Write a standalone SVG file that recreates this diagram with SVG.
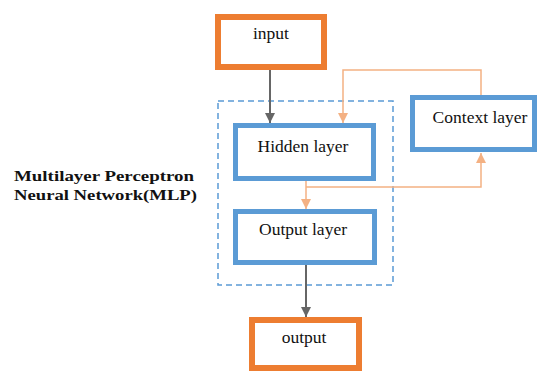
<svg xmlns="http://www.w3.org/2000/svg" width="541" height="372" viewBox="0 0 541 372">
  <style>
    .io { fill: #ffffff; stroke: #ED7D31; stroke-width: 6; }
    .layer { fill: #ffffff; stroke: #5B9BD5; stroke-width: 5; }
    .group { fill: none; stroke: #5B9BD5; stroke-width: 1.5; stroke-dasharray: 6 4; }
    .label { font-family: "Liberation Serif", "Times New Roman", serif; font-size: 17.5px; fill: #111111; text-anchor: middle; }
    .title { font-family: "Liberation Serif", "Times New Roman", serif; font-size: 15px; font-weight: bold; fill: #111111; }
    .fwd { fill: none; stroke: #666666; stroke-width: 2; }
    .ctx { fill: none; stroke: #F4B183; stroke-width: 1.5; }
  </style>
  <defs>
    <marker id="arrowGray" viewBox="0 0 10 10" refX="10" refY="5" markerWidth="11" markerHeight="10" markerUnits="userSpaceOnUse" orient="auto">
      <path d="M0,0 L10,5 L0,10 z" fill="#666666"/>
    </marker>
    <marker id="arrowOrange" viewBox="0 0 10 10" refX="10" refY="5" markerWidth="11" markerHeight="10" markerUnits="userSpaceOnUse" orient="auto">
      <path d="M0,0 L10,5 L0,10 z" fill="#F4B183"/>
    </marker>
  </defs>

  <!-- MLP boundary -->
  <rect class="group" x="218" y="101" width="175" height="184"/>

  <!-- connectors -->
  <g id="connectors">
    <path class="fwd" d="M270,70 V123" marker-end="url(#arrowGray)"/>
    <path class="fwd" d="M306,265 V317" marker-end="url(#arrowGray)"/>
    <path class="ctx" d="M481,95 V70 H343 V123" marker-end="url(#arrowOrange)"/>
    <path class="ctx" d="M306,181 V209" marker-end="url(#arrowOrange)"/>
    <path class="ctx" d="M306,187 H481 V153" marker-end="url(#arrowOrange)"/>
  </g>

  <g id="input">
    <rect class="io" x="218" y="17" width="106" height="50"/>
    <text class="label" x="271" y="39">input</text>
  </g>

  <g id="hidden">
    <rect class="layer" x="235.5" y="125.5" width="138" height="53"/>
    <text class="label" x="303" y="152">Hidden layer</text>
  </g>

  <g id="outputLayer">
    <rect class="layer" x="235.5" y="211.5" width="139" height="51"/>
    <text class="label" x="303" y="235">Output layer</text>
  </g>

  <g id="context">
    <rect class="layer" x="412.5" y="97.5" width="122" height="52"/>
    <text class="label" x="480" y="123">Context layer</text>
  </g>

  <g id="output">
    <rect class="io" x="252" y="320" width="107" height="48"/>
    <text class="label" x="304" y="343">output</text>
  </g>

  <g id="mlpLabel">
    <text class="title" x="14" y="181" textLength="180" lengthAdjust="spacingAndGlyphs">Multilayer Perceptron</text>
    <text class="title" x="14" y="200" textLength="183" lengthAdjust="spacingAndGlyphs">Neural Network(MLP)</text>
  </g>
</svg>
